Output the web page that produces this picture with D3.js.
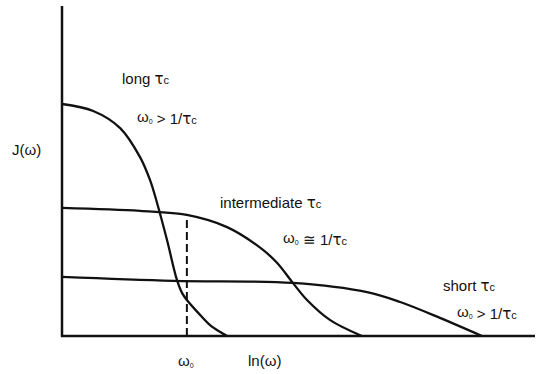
<!DOCTYPE html>
<html>
<head>
<meta charset="utf-8">
<script src="https://cdn.jsdelivr.net/npm/d3@7"></script>
<style>
  html, body { margin: 0; padding: 0; background: #fff; }
  svg { display: block; font-family: "Liberation Sans", Arial, sans-serif; }
</style>
</head>
<body>
<div id="chart"></div>
<script>
// curves, in arbitrary units (x: ln(w), y: J(w))
const longX = [0, 6.6, 12.3, 16.5, 18.6, 20.1, 22.2, 24.3, 25.4, 26.4, 28.8, 31.3, 33.8, 34.9];
const longY = [70.3, 68.2, 63.0, 54.2, 47.3, 40.3, 29.1, 17.0, 13.0, 10.9, 7.0, 3.3, 0.9, 0];

const interX = [0, 16.5, 26.4, 34.9, 42.5, 45.5, 48.8, 51.8, 56.7, 63.4];
const interY = [38.8, 37.9, 36.7, 33.0, 26.1, 22.1, 16.1, 10.9, 4.8, 0];

const shortX = [0, 23.5, 48.8, 64.5, 71.5, 79.9, 88.8];
const shortY = [17.9, 16.7, 16.1, 13.3, 10.3, 5.5, 0];

const omega0 = 26.4;       // position of the dashed marker
const omega0Top = 36.7;    // where it meets the intermediate curve

const width = 544, height = 374;
const x = d3.scaleLinear().domain([0, 100]).range([62, 535]);
const y = d3.scaleLinear().domain([0, 100]).range([336, 6]);

const svg = d3.select('#chart')
  .append('svg')
    .attr('width', width)
    .attr('height', height);

// axes (plain lines, no ticks)
svg.append('line')
  .attr('x1', x(0)).attr('x2', x(0))
  .attr('y1', y(0) + 1).attr('y2', y(100))
  .attr('stroke', '#111').attr('stroke-width', 2.5);
svg.append('line')
  .attr('x1', x(0) - 1).attr('x2', x(100))
  .attr('y1', y(0)).attr('y2', y(0))
  .attr('stroke', '#111').attr('stroke-width', 2.5);

const line = d3.line()
  .x(d => x(d[0]))
  .y(d => y(d[1]))
  .curve(d3.curveCatmullRom.alpha(0.5));

const series = [
  d3.zip(longX, longY),
  d3.zip(interX, interY),
  d3.zip(shortX, shortY),
];

svg.selectAll('path.curve')
  .data(series)
  .enter()
  .append('path')
    .attr('class', 'curve')
    .attr('d', line)
    .attr('fill', 'none')
    .attr('stroke', '#111')
    .attr('stroke-width', 2.3)
    .attr('stroke-linejoin', 'round');

svg.append('line')
  .attr('x1', x(omega0)).attr('x2', x(omega0))
  .attr('y1', y(0)).attr('y2', y(omega0Top))
  .attr('stroke', '#111')
  .attr('stroke-width', 2)
  .attr('stroke-dasharray', '8,4');

// text helpers
function tau(t) {
  t.append('tspan').attr('font-family', 'DejaVu Sans').attr('font-size', 15).text('τ');
  t.append('tspan').attr('font-size', 11).text('c');
}
function omegaZero(t) {
  t.append('tspan').text('ω');
  t.append('tspan').attr('font-size', 7).attr('dy', 2).text('0');
  t.append('tspan').attr('dy', -2).text('');
}
function label(px, py) {
  return svg.append('text')
    .attr('x', px).attr('y', py)
    .attr('font-size', 15)
    .attr('fill', '#111');
}

let t = label(122, 84);
t.append('tspan').text('long ');
tau(t);

t = label(137, 122);
omegaZero(t);
t.append('tspan').text(' > 1/');
tau(t);

label(12, 155).text('J(ω)');

t = label(220, 208);
t.append('tspan').text('intermediate  ');
tau(t);

t = label(283, 243);
omegaZero(t);
t.append('tspan').text(' ≅  1/');
tau(t);

t = label(443, 291);
t.append('tspan').text('short ');
tau(t);

t = label(457, 317);
omegaZero(t);
t.append('tspan').text(' > 1/');
tau(t);

t = label(178, 366);
omegaZero(t);

label(248, 366).text('ln(ω)');
</script>
</body>
</html>
